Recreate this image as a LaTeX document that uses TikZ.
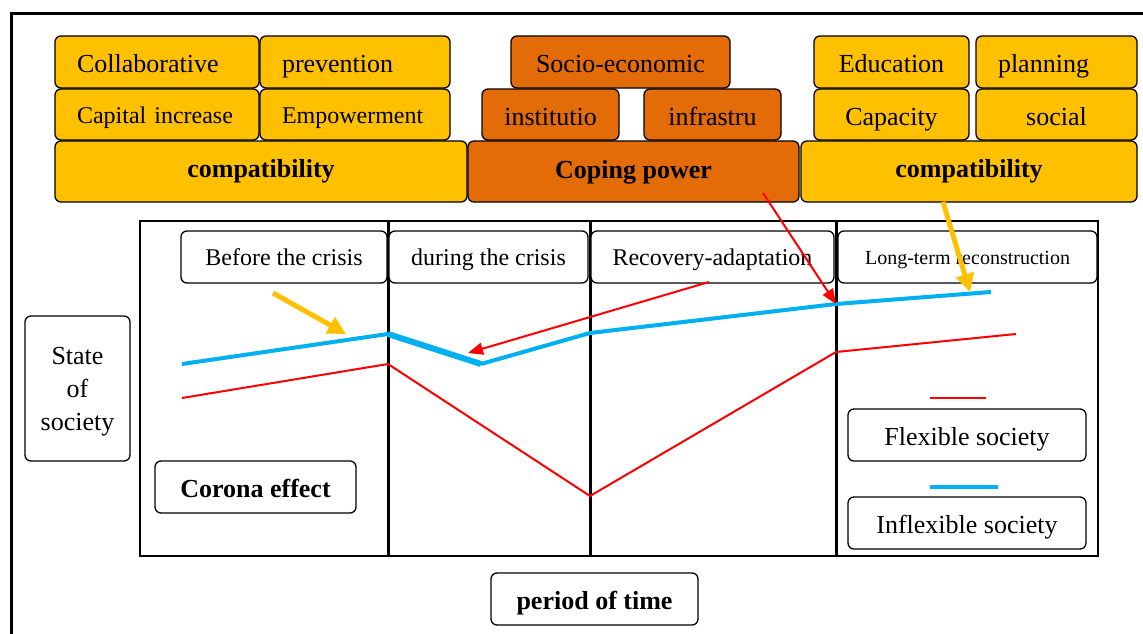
\documentclass[tikz,border=0pt]{standalone}
\usepackage{fontspec}
\setmainfont{Liberation Serif}
\usetikzlibrary{arrows.meta}
\definecolor{yel}{HTML}{FFC000}
\definecolor{dorg}{HTML}{E36C09}
\definecolor{skyb}{HTML}{00B0F0}
\definecolor{rd}{HTML}{FF0000}
\newcommand{\lowline}[1]{\raisebox{-9pt}[0pt][0pt]{#1}}
\tikzset{
  bx/.style={draw=black, line width=1.3pt, rounded corners=6pt, inner sep=0pt, font=\fontsize{26}{30}\selectfont, text depth=0pt, text height=21pt},
  bxs/.style={bx, font=\fontsize{24}{28}\selectfont, text height=17pt},
  bxb/.style={bx, font=\fontsize{26}{30}\selectfont\bfseries, text height=12pt},
  lpad/.style={align=left, text width=#1},
  yb/.style={fill=yel},
  ob/.style={fill=dorg},
  wb/.style={fill=white},
  blueline/.style={draw=skyb, line width=4pt},
  redline/.style={draw=rd, line width=2pt},
  redarrow/.style={draw=rd, line width=2pt, -{Triangle[length=15pt,width=12pt]}},
  orgarrow/.style={draw=yel, line width=5pt, -{Triangle[length=18pt,width=18pt]}},
  divider/.style={line width=3pt}
}
\begin{document}
\begin{tikzpicture}[x=1pt, y=-1pt]
\useasboundingbox (0,0) rectangle (1143,634);
% outer frame
\draw[line width=3pt] (11,634) -- (11,14) -- (1143,14);

% top blocks - left
\node[bx, yb, lpad=160pt, minimum width=204pt, minimum height=52pt] (collab) at (157,62) {Collaborative};
\node[bx, yb, lpad=146pt, minimum width=190pt, minimum height=52pt] (prev) at (355,62) {prevention};
\node[bxs, yb, lpad=160pt, minimum width=204pt, minimum height=51pt] (capinc) at (157,114.5) {Capital increase};
\node[bxs, yb, lpad=146pt, minimum width=190pt, minimum height=51pt] (empow) at (355,114.5) {Empowerment};
\node[bxb, yb, minimum width=412pt, minimum height=61pt] (compatL) at (261,171.5) {compatibility};
% middle
\node[bx, ob, minimum width=219pt, minimum height=52pt] (socio) at (620.5,62) {Socio-economic};
\node[bx, ob, minimum width=137pt, minimum height=51pt] (instit) at (550.5,114.5) {institutio};
\node[bx, ob, minimum width=137pt, minimum height=51pt] (infra) at (712.5,114.5) {infrastru};
\node[bxb, ob, minimum width=331pt, minimum height=61pt, text height=14pt] (coping) at (633.5,171.5) {Coping power};
% right
\node[bx, yb, minimum width=155pt, minimum height=52pt] (educ) at (891.5,62) {Education};
\node[bx, yb, lpad=117pt, minimum width=161pt, minimum height=52pt] (plan) at (1056.5,62) {planning};
\node[bx, yb, minimum width=155pt, minimum height=51pt] (capac) at (891.5,114.5) {Capacity};
\node[bx, yb, minimum width=161pt, minimum height=51pt] (social) at (1056.5,114.5) {social};
\node[bxb, yb, minimum width=336pt, minimum height=61pt] (compatR) at (969,171.5) {compatibility};

% chart frame
\draw[line width=1.5pt] (140,221) rectangle (1098,556);
\draw[divider] (388,221) -- (388,556);
\draw[divider] (590,221) -- (590,556);
\draw[divider] (836,221) -- (836,556);

% headers
\node[bxs, wb, text height=16pt, minimum width=206pt, minimum height=52pt] (h1) at (284,257) {Before the crisis};
\node[bxs, wb, text height=16pt, minimum width=199pt, minimum height=52pt] (h2) at (488.5,257) {during the crisis};
\node[bxs, wb, text height=16pt, minimum width=243pt, minimum height=52pt] (h3) at (712.5,257) {Recovery-adaptation};
\node[bx, wb, font=\fontsize{20}{24}\selectfont, text height=14pt, minimum width=259pt, minimum height=52pt] (h4) at (967.5,257) {Long-term reconstruction};

% side and legend boxes
\node[bx, wb, text height=, text depth=, minimum width=105pt, minimum height=145pt, align=center, font=\fontsize{26}{33}\selectfont] (state) at (77.5,388.5) {\lowline{State}\\\lowline{of}\\\lowline{society}};
\node[bxb, wb, text height=20pt, minimum width=201pt, minimum height=52pt] (corona) at (255.5,487) {Corona effect};
\node[bx, wb, minimum width=238pt, minimum height=52pt] (flex) at (967,435) {Flexible society};
\node[bx, wb, minimum width=238pt, minimum height=52pt] (inflex) at (967,523) {Inflexible society};
\node[bxb, wb, text height=20pt, minimum width=207pt, minimum height=52pt] (period) at (594.5,599) {period of time};

% curve points
\coordinate (b1) at (182,364);
\coordinate (b2) at (388,334);
\coordinate (b3) at (481,364);
\coordinate (b4) at (590,333);
\coordinate (b5) at (836,304);
\coordinate (b6) at (991,292);
\coordinate (r1) at (182,398);
\coordinate (r2) at (388,364);
\coordinate (r3) at (590,496);
\coordinate (r4) at (836,352);
\coordinate (r5) at (1016,334);

\draw[redline, line join=miter] (r1) -- (r2) -- (r3) -- (r4) -- (r5);
\draw[blueline] (b1) -- (b2);
\draw[draw=skyb, line width=6pt] (b2) -- (b3);
\draw[blueline] (b3) -- (b4) -- (b5) -- (b6);

% legend swatches
\coordinate (lr1) at (930,398);
\coordinate (lr2) at (986,398);
\coordinate (lb1) at (930,487);
\coordinate (lb2) at (998,487);
\draw[redline] (lr1) -- (lr2);
\draw[blueline] (lb1) -- (lb2);

% arrows
\coordinate (a1s) at (709,282);
\coordinate (a1e) at (468,353);
\coordinate (a2s) at (763,193);
\coordinate (o1s) at (273,293);
\coordinate (o1e) at (346,334);
\coordinate (o2s) at (943,202);
\coordinate (o2e) at (970,292);
\draw[redarrow] (a1s) -- (a1e);
\draw[redarrow] (a2s) -- (b5);
\draw[orgarrow] (o1s) -- (o1e);
\draw[orgarrow] (o2s) -- (o2e);
\end{tikzpicture}
\end{document}
